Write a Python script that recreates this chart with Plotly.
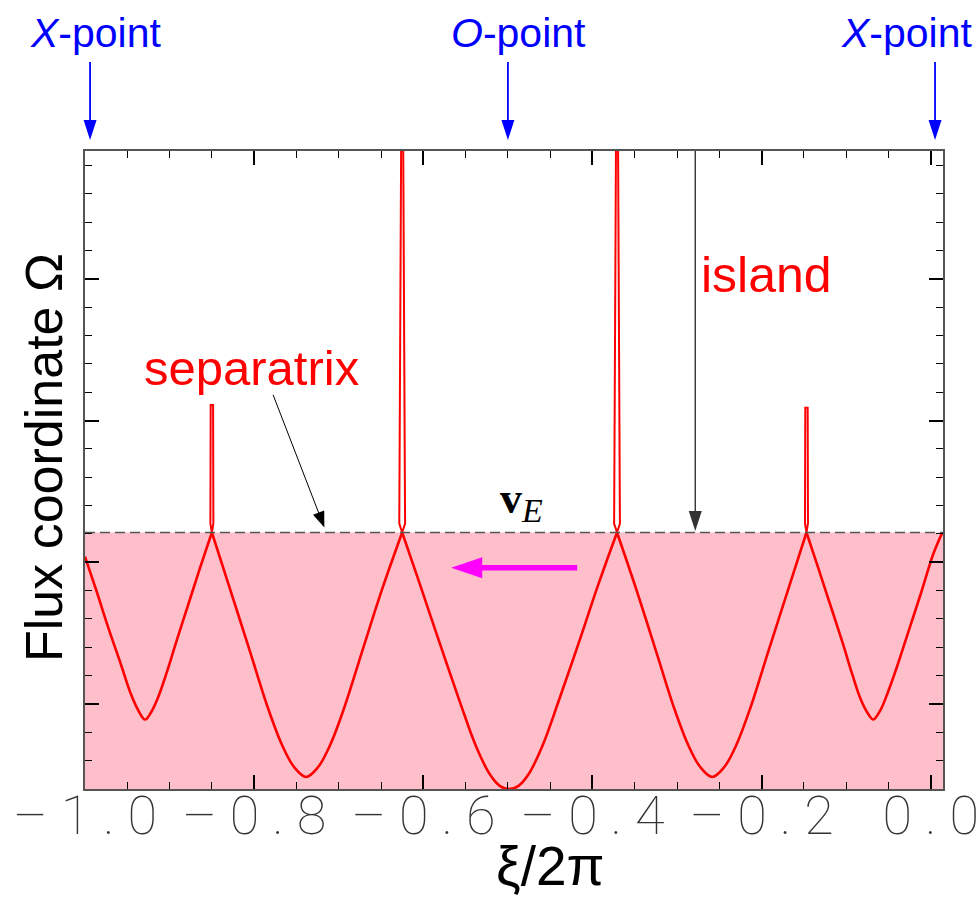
import math
import plotly.graph_objects as go

# ---- axes -----------------------------------------------------------------
x_ticks = [-1.0, -0.8, -0.6, -0.4, -0.2, 0.0]
x_tick_labels = ["−1.0", "−0.8", "−0.6", "−0.4", "−0.2", "0.0"]
X_RANGE = [-1.0, 0.0144]
Y_RANGE = [0.0, 4.502]

# flux level of the separatrix (dashed line / top of shaded region)
sep_level = 1.81

# lower separatrix branches between successive crossings
dip1_x = [-1.000, -0.986, -0.972, -0.957, -0.947, -0.937, -0.929, -0.922, -0.914, -0.904, -0.892, -0.878, -0.864, -0.850]
dip1_y = [1.64, 1.39, 1.13, 0.87, 0.69, 0.555, 0.49, 0.54, 0.64, 0.81, 1.04, 1.30, 1.56, 1.81]

dip2_x = [-0.850, -0.8285, -0.8049, -0.7836, -0.7670, -0.7528, -0.7386, -0.7244, -0.7102, -0.6937, -0.6724, -0.6487, -0.625]
dip2_y = [1.81, 1.41, 0.97, 0.57, 0.31, 0.155, 0.085, 0.155, 0.31, 0.57, 0.97, 1.41, 1.81]

dip3_x = [-0.625, -0.6038, -0.5801, -0.5565, -0.5376, -0.5210, -0.5092, -0.4985, -0.4879, -0.4760, -0.4595, -0.4406, -0.4169, -0.3933, -0.371]
dip3_y = [1.81, 1.44, 1.02, 0.61, 0.30, 0.10, 0.02, 0.0, 0.02, 0.10, 0.30, 0.61, 1.02, 1.44, 1.81]

dip4_x = [-0.371, -0.3483, -0.3247, -0.3034, -0.2868, -0.2726, -0.2584, -0.2442, -0.2300, -0.2135, -0.1922, -0.1685, -0.147]
dip4_y = [1.81, 1.41, 0.97, 0.57, 0.31, 0.155, 0.085, 0.155, 0.31, 0.57, 0.97, 1.41, 1.81]

dip5_x = [-0.147, -0.1331, -0.1189, -0.1047, -0.0929, -0.0834, -0.0751, -0.0680, -0.0597, -0.0503, -0.0396, -0.0254, -0.0112, 0.0030, 0.0136]
dip5_y = [1.81, 1.56, 1.30, 1.04, 0.81, 0.64, 0.54, 0.49, 0.555, 0.69, 0.87, 1.13, 1.39, 1.66, 1.81]

# thin island spikes rising from the crossings
spike_x = [-0.850, -0.625, -0.371, -0.147]
spike_top = [2.71, 4.6, 4.6, 2.69]

# X/O points marked above the frame
point_x = [-0.994, -0.5, 0.005]
point_labels = ["<i>X</i>-point", "<i>O</i>-point", "<i>X</i>-point"]

# ---- geometry --------------------------------------------------------------
W, H = 978, 899
ML, MR, MT, MB = 85, 35, 151, 110
PW, PH = W - ML - MR, H - MT - MB
px_x = (X_RANGE[1] - X_RANGE[0]) / PW   # data units per pixel
px_y = (Y_RANGE[1] - Y_RANGE[0]) / PH

SANS = "Liberation Sans, Arial, sans-serif"
RED = "#ff0000"

fig = go.Figure()

for xs, ys in [(dip1_x, dip1_y), (dip2_x, dip2_y), (dip3_x, dip3_y),
               (dip4_x, dip4_y), (dip5_x, dip5_y)]:
    fig.add_trace(go.Scatter(x=xs, y=ys, mode="lines",
                             line=dict(color=RED, width=2.6, shape="spline", smoothing=1.0),
                             hoverinfo="skip", showlegend=False))

for cx, top in zip(spike_x, spike_top):
    tall = top > Y_RANGE[1]
    wb = (2.9 if tall else 1.5) * px_x
    wt = (1.0 if tall else 1.2) * px_x
    pinch = sep_level + 9 * px_y
    fig.add_trace(go.Scatter(
        x=[cx, cx - wb, cx - wt, cx + wt, cx + wb, cx],
        y=[sep_level, pinch, top, top, pinch, sep_level],
        mode="lines", line=dict(color=RED, width=2.0),
        hoverinfo="skip", showlegend=False))

# dashed separatrix level
fig.add_trace(go.Scatter(x=X_RANGE, y=[sep_level, sep_level], mode="lines",
                         line=dict(color="#555555", width=1.4, dash="10px,5px"),
                         hoverinfo="skip", showlegend=False))

shapes = [dict(type="rect", xref="x", yref="y", x0=X_RANGE[0], x1=X_RANGE[1],
               y0=Y_RANGE[0], y1=sep_level, fillcolor="#ffbfca",
               line=dict(width=0), layer="below")]


def arrow(tip, tail, color, lw, head_len, head_w, xref="x", yref="y"):
    sx = PW / (X_RANGE[1] - X_RANGE[0]) if xref == "x" else PW
    sy = PH / (Y_RANGE[1] - Y_RANGE[0]) if yref == "y" else PH
    vx, vy = (tail[0] - tip[0]) * sx, (tail[1] - tip[1]) * sy
    n = math.hypot(vx, vy)
    ux, uy = vx / n, vy / n
    bx, by = ux * head_len, uy * head_len
    nx, ny = -uy, ux
    p1 = (bx + nx * head_w / 2, by + ny * head_w / 2)
    p2 = (bx - nx * head_w / 2, by - ny * head_w / 2)
    shapes.append(dict(type="line", xref=xref, yref=yref,
                       x0=tail[0], y0=tail[1],
                       x1=tip[0] + 0.8 * bx / sx, y1=tip[1] + 0.8 * by / sy,
                       line=dict(color=color, width=lw)))
    shapes.append(dict(type="path", xref=xref, yref=yref,
                       xsizemode="pixel", ysizemode="pixel",
                       xanchor=tip[0], yanchor=tip[1],
                       path=f"M0,0 L{p1[0]:.2f},{p1[1]:.2f} L{p2[0]:.2f},{p2[1]:.2f} Z",
                       fillcolor=color, line=dict(width=0)))


def to_paper_x(x):
    return (x - X_RANGE[0]) / (X_RANGE[1] - X_RANGE[0])


annotations = []

# X/O point arrows and labels above the frame
label_shift = [6, 11, -28]
for x, lab, sh in zip(point_x, point_labels, label_shift):
    xp = to_paper_x(x)
    arrow((xp, 1.0172), (xp, 1.1395), "#0000ff", 1.8, 20, 13, xref="paper", yref="paper")
    annotations.append(dict(x=xp, y=1.185, xref="paper", yref="paper", text=lab,
                            showarrow=False, xshift=sh, xanchor="center", yanchor="middle",
                            font=dict(family=SANS, size=41, color="#0000ff")))

# separatrix pointer
arrow((-0.717, 1.845), (-0.7776, 2.781), "#000000", 1.0, 16, 12)
annotations.append(dict(x=-0.803, y=2.97, text="separatrix", showarrow=False,
                        xanchor="center", yanchor="middle",
                        font=dict(family=SANS, size=49, color=RED)))

# island pointer
arrow((-0.2785, 1.82), (-0.2785, Y_RANGE[1]), "#333333", 1.4, 20, 13)
annotations.append(dict(x=-0.194, y=3.63, text="island", showarrow=False,
                        xanchor="center", yanchor="middle",
                        font=dict(family=SANS, size=50, color=RED)))

# E x B drift direction
arrow((-0.5671, 1.562), (-0.4181, 1.562), "#ff00ff", 5.5, 31, 21)
annotations.append(dict(x=-0.4843, y=1.81, yshift=2,
                        text="<b>v</b><sub><span style='font-size:34px'><i>E</i></span></sub>",
                        showarrow=False, xanchor="center", yanchor="bottom",
                        font=dict(family="Liberation Serif, Times New Roman, serif", size=44, color="#000000")))

# axis titles
annotations.append(dict(x=(44 - ML) / PW, y=(H - MB - 458) / PH, xref="paper", yref="paper",
                        text="Flux coordinate Ω", textangle=-90, showarrow=False,
                        xanchor="center", yanchor="middle",
                        font=dict(family=SANS, size=52, color="#000000")))
annotations.append(dict(x=(550 - ML) / PW, y=(H - MB - 866) / PH, xref="paper", yref="paper",
                        text="ξ/2π", showarrow=False, xanchor="center", yanchor="middle",
                        font=dict(family=SANS, size=55, color="#000000")))

axis_common = dict(showgrid=False, zeroline=False, showline=True, linecolor="#555555",
                   linewidth=2, mirror="ticks", ticks="inside", ticklen=14, tickwidth=1.5,
                   tickcolor="#000000", automargin=False)


def spaced(label):
    # wide Hershey-like spacing: dash for the sign, gaps between characters
    sign = "– " if label.startswith("−") else ""
    return sign + " ".join(label.lstrip("−"))


fig.update_layout(
    width=W, height=H,
    margin=dict(l=ML, r=MR, t=MT, b=MB),
    paper_bgcolor="white", plot_bgcolor="white",
    showlegend=False,
    shapes=shapes, annotations=annotations,
    xaxis=dict(range=X_RANGE, tickvals=x_ticks,
               ticktext=[spaced(t) for t in x_tick_labels],
               tickfont=dict(family="Roboto, Inter, sans-serif", size=54, color="#333333", weight=100),
               ticklabeloverflow="allow", ticklabelstandoff=-22,
               minor=dict(ticks="inside", dtick=0.05, tick0=0, ticklen=7, tickwidth=1.2, tickcolor="#000000"),
               **axis_common),
    yaxis=dict(range=Y_RANGE, tick0=0.6, dtick=1, showticklabels=False,
               minor=dict(ticks="inside", dtick=0.2, tick0=0, ticklen=7, tickwidth=1.2, tickcolor="#000000"),
               **axis_common),
)

fig.write_html("out.html")
